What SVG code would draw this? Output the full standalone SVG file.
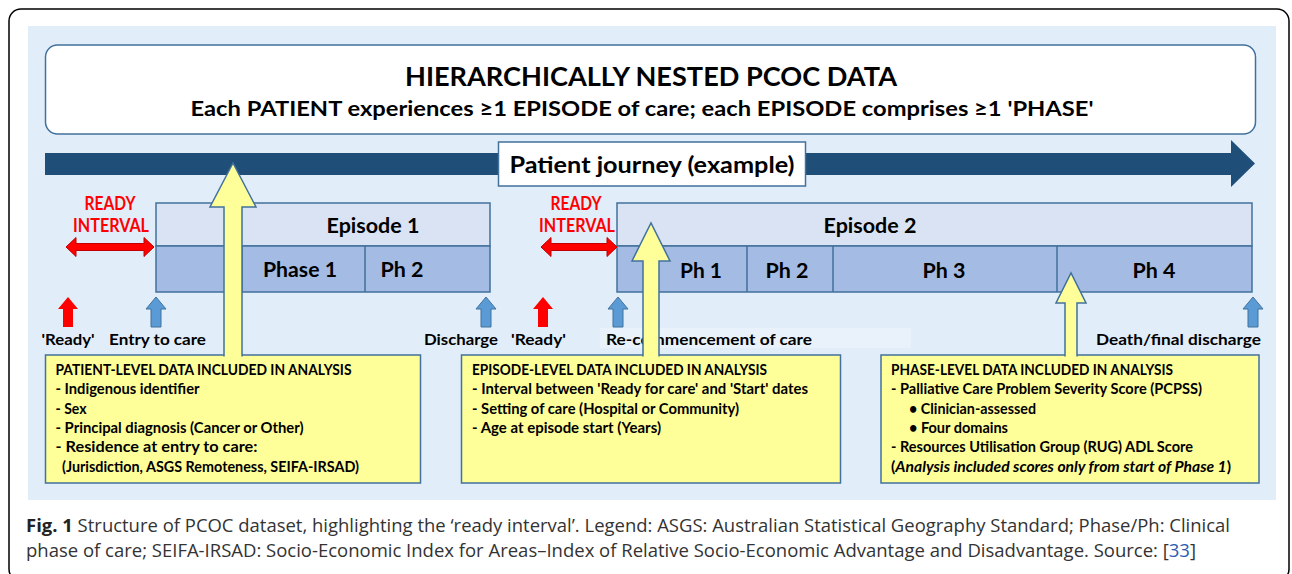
<svg xmlns="http://www.w3.org/2000/svg" width="1292" height="574" viewBox="0 0 1292 574">
<style>
.b{font-family:Lato,"Open Sans","Liberation Sans",sans-serif;font-weight:bold;fill:#000}
.red{fill:#FF0000}
.box{fill:#FFFF99;stroke:#41719C;stroke-width:1.5}
.ep1{fill:#DAE3F3;stroke:#41719C;stroke-width:1.5}
.ep2{fill:#A4BBE3;stroke:#41719C;stroke-width:1.5}
.ya{fill:#FFFF99;stroke:#41719C;stroke-width:1.5}
.cap{font-family:"Open Sans","Liberation Sans",sans-serif;font-weight:normal;fill:#333;font-size:18px}
.t14{font-size:15px}
.lab{font-size:15.5px}
</style>
<defs>
<path id="up" d="M0,0 L10,12 L5,12 L5,30 L-5,30 L-5,12 L-10,12 Z"/>
</defs>
<rect x="9" y="9" width="1280" height="572" rx="12" fill="#fff" stroke="#000" stroke-width="1.5"/>
<rect x="28" y="26" width="1248" height="474" fill="#E1EEFA"/>
<g id="title">
<rect x="45.5" y="45" width="1210" height="89" rx="12" fill="#fff" stroke="#41719C" stroke-width="1.5"/>
<text class="b" x="651" y="86" font-size="27" text-anchor="middle" textLength="492" lengthAdjust="spacingAndGlyphs">HIERARCHICALLY NESTED PCOC DATA</text>
<text class="b" x="642" y="116" font-size="21" text-anchor="middle" textLength="903" lengthAdjust="spacingAndGlyphs">Each PATIENT experiences ≥1 EPISODE of care; each EPISODE comprises ≥1 'PHASE'</text>
</g>
<g id="journey">
<path d="M45,153 L1231,153 L1231,140 L1255,163.5 L1231,187 L1231,175 L45,175 Z" fill="#1F4E79"/>
<rect x="498.5" y="142" width="307" height="44" fill="#fff" stroke="#41719C" stroke-width="1.5"/>
<text class="b" x="652" y="173" font-size="22" text-anchor="middle" textLength="285" lengthAdjust="spacingAndGlyphs">Patient journey (example)</text>
</g>
<g id="episode1">
<rect class="ep1" x="156" y="203" width="334" height="43"/>
<rect class="ep2" x="156" y="246" width="334" height="46"/>
<line x1="242" y1="246" x2="242" y2="292" stroke="#41719C" stroke-width="1.5"/>
<line x1="365" y1="246" x2="365" y2="292" stroke="#41719C" stroke-width="1.5"/>
<text class="b" x="373" y="233" font-size="20" text-anchor="middle" textLength="93" lengthAdjust="spacingAndGlyphs">Episode 1</text>
<text class="b" x="300" y="277" font-size="20" text-anchor="middle" textLength="74" lengthAdjust="spacingAndGlyphs">Phase 1</text>
<text class="b" x="402" y="277" font-size="20" text-anchor="middle" textLength="43" lengthAdjust="spacingAndGlyphs">Ph 2</text>
</g>
<g id="episode2">
<rect class="ep1" x="617" y="203" width="635" height="43"/>
<rect class="ep2" x="617" y="246" width="635" height="46"/>
<line x1="747" y1="246" x2="747" y2="292" stroke="#41719C" stroke-width="1.5"/>
<line x1="833" y1="246" x2="833" y2="292" stroke="#41719C" stroke-width="1.5"/>
<line x1="1057" y1="246" x2="1057" y2="292" stroke="#41719C" stroke-width="1.5"/>
<text class="b" x="870" y="233" font-size="20" text-anchor="middle" textLength="93" lengthAdjust="spacingAndGlyphs">Episode 2</text>
<text class="b" x="701" y="278" font-size="20" text-anchor="middle" textLength="42" lengthAdjust="spacingAndGlyphs">Ph 1</text>
<text class="b" x="787" y="278" font-size="20" text-anchor="middle" textLength="43" lengthAdjust="spacingAndGlyphs">Ph 2</text>
<text class="b" x="944" y="278" font-size="20" text-anchor="middle" textLength="43" lengthAdjust="spacingAndGlyphs">Ph 3</text>
<text class="b" x="1154" y="278" font-size="20" text-anchor="middle" textLength="43" lengthAdjust="spacingAndGlyphs">Ph 4</text>
</g>
<g id="ready1">
<text class="b red" x="110" y="210" font-size="18" text-anchor="middle" textLength="51" lengthAdjust="spacingAndGlyphs">READY</text>
<text class="b red" x="111" y="232" font-size="18" text-anchor="middle" textLength="76" lengthAdjust="spacingAndGlyphs">INTERVAL</text>
<path d="M66,247 L76,237.5 L76,243.5 L144,243.5 L144,237.5 L154,247 L144,256.5 L144,250.5 L76,250.5 L76,256.5 Z" fill="#FF0000" stroke="#C00000" stroke-width="1"/>
</g>
<g id="ready2">
<text class="b red" x="576" y="210" font-size="18" text-anchor="middle" textLength="51" lengthAdjust="spacingAndGlyphs">READY</text>
<text class="b red" x="577" y="232" font-size="18" text-anchor="middle" textLength="76" lengthAdjust="spacingAndGlyphs">INTERVAL</text>
<path d="M541,247 L551,237.5 L551,243.5 L607,243.5 L607,237.5 L617,247 L607,256.5 L607,250.5 L551,250.5 L551,256.5 Z" fill="#FF0000" stroke="#C00000" stroke-width="1"/>
</g>
<rect x="600" y="328" width="311" height="20" fill="#E9F2FB"/>
<g id="markers">
<use href="#up" x="68" y="297" fill="#FF0000"/>
<use href="#up" x="543" y="297" fill="#FF0000"/>
<use href="#up" x="156" y="297" fill="#5B9BD5" stroke="#41719C" stroke-width="1"/>
<use href="#up" x="486" y="297" fill="#5B9BD5" stroke="#41719C" stroke-width="1"/>
<use href="#up" x="618" y="297" fill="#5B9BD5" stroke="#41719C" stroke-width="1"/>
<use href="#up" x="1253" y="297" fill="#5B9BD5" stroke="#41719C" stroke-width="1"/>
<text class="b lab" x="41.5" y="345" textLength="53" lengthAdjust="spacingAndGlyphs">'Ready'</text>
<text class="b lab" x="109" y="345" textLength="97" lengthAdjust="spacingAndGlyphs">Entry to care</text>
<text class="b lab" x="424" y="345" textLength="74" lengthAdjust="spacingAndGlyphs">Discharge</text>
<text class="b lab" x="511" y="345" textLength="55" lengthAdjust="spacingAndGlyphs">'Ready'</text>
<text class="b lab" x="606" y="345" textLength="206" lengthAdjust="spacingAndGlyphs">Re-commencement of care</text>
<text class="b lab" x="1096" y="345" textLength="165" lengthAdjust="spacingAndGlyphs">Death/final discharge</text>
</g>
<g id="patient-data">
<rect class="box" x="45.5" y="355" width="375" height="128"/>
<text class="b t14" x="55.5" y="375" textLength="296" lengthAdjust="spacingAndGlyphs">PATIENT-LEVEL DATA INCLUDED IN ANALYSIS</text>
<text class="b t14" x="55.5" y="394" textLength="144" lengthAdjust="spacingAndGlyphs">- Indigenous identifier</text>
<text class="b t14" x="55.5" y="414" textLength="31" lengthAdjust="spacingAndGlyphs">- Sex</text>
<text class="b t14" x="55.5" y="433" textLength="248" lengthAdjust="spacingAndGlyphs">- Principal diagnosis (Cancer or Other)</text>
<text class="b t14" x="55.5" y="452" textLength="202" lengthAdjust="spacingAndGlyphs">- Residence at entry to care:</text>
<text class="b t14" x="62" y="472" textLength="297" lengthAdjust="spacingAndGlyphs">(Jurisdiction, ASGS Remoteness, SEIFA-IRSAD)</text>
</g>
<g id="episode-data">
<rect class="box" x="461.5" y="355" width="379" height="128"/>
<text class="b t14" x="472" y="375" textLength="295" lengthAdjust="spacingAndGlyphs">EPISODE-LEVEL DATA INCLUDED IN ANALYSIS</text>
<text class="b t14" x="472" y="394" textLength="336" lengthAdjust="spacingAndGlyphs">- Interval between 'Ready for care' and 'Start' dates</text>
<text class="b t14" x="472" y="414" textLength="267" lengthAdjust="spacingAndGlyphs">- Setting of care (Hospital or Community)</text>
<text class="b t14" x="472" y="433" textLength="189" lengthAdjust="spacingAndGlyphs">- Age at episode start (Years)</text>
</g>
<g id="phase-data">
<rect class="box" x="881" y="355" width="378" height="128"/>
<text class="b t14" x="891" y="375" textLength="282" lengthAdjust="spacingAndGlyphs">PHASE-LEVEL DATA INCLUDED IN ANALYSIS</text>
<text class="b t14" x="891" y="394" textLength="311" lengthAdjust="spacingAndGlyphs">- Palliative Care Problem Severity Score (PCPSS)</text>
<text class="b t14" x="909" y="414" textLength="127" lengthAdjust="spacingAndGlyphs">• Clinician-assessed</text>
<text class="b t14" x="909" y="433" textLength="99" lengthAdjust="spacingAndGlyphs">• Four domains</text>
<text class="b t14" x="891" y="452" textLength="302" lengthAdjust="spacingAndGlyphs">- Resources Utilisation Group (RUG) ADL Score</text>
<text class="b t14" x="891" y="472" textLength="340" lengthAdjust="spacingAndGlyphs">(<tspan font-style="italic">Analysis included scores only from start of Phase 1</tspan>)</text>
</g>
<g id="connectors">
<path class="ya" d="M224,356.5 L224,207 L210,207 L233,163 L256,207 L242,207 L242,356.5"/>
<path class="ya" d="M643,356.5 L643,261 L632,261 L651,223 L670,261 L659,261 L659,356.5"/>
<path class="ya" d="M1065,356.5 L1065,303 L1056,303 L1071,273 L1086,303 L1077,303 L1077,356.5"/>
</g>
<text class="cap" x="26" y="532" textLength="1204" lengthAdjust="spacingAndGlyphs"><tspan font-weight="bold" fill="#222">Fig. 1</tspan> Structure of PCOC dataset, highlighting the ‘ready interval’. Legend: ASGS: Australian Statistical Geography Standard; Phase/Ph: Clinical</text>
<text class="cap" x="26" y="557" textLength="1170" lengthAdjust="spacingAndGlyphs">phase of care; SEIFA-IRSAD: Socio-Economic Index for Areas–Index of Relative Socio-Economic Advantage and Disadvantage. Source: [<tspan fill="#2A5DB0">33</tspan>]</text>
</svg>
